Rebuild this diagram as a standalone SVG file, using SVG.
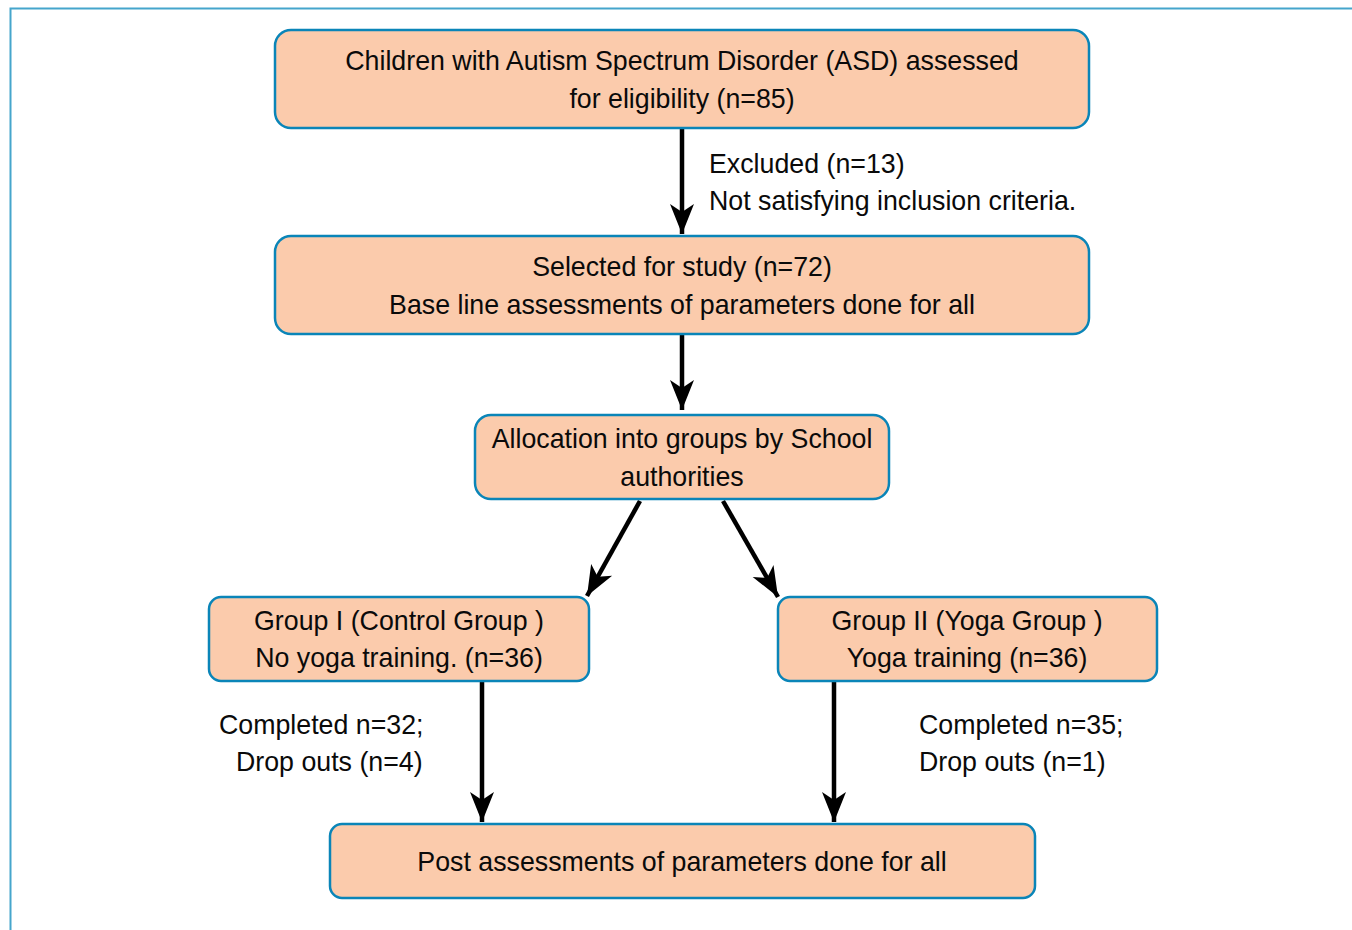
<svg xmlns="http://www.w3.org/2000/svg" width="1352" height="930" viewBox="0 0 1352 930">
<style>
.box{fill:#fbcbac;stroke:#0a85b8;stroke-width:2.5}
.t{font-family:"Liberation Sans",Arial,sans-serif;font-size:26.75px;fill:#0a0a0a}
.c{text-anchor:middle}
.ln{stroke:#000;stroke-width:4.5;fill:none}
</style>
<defs>
<marker id="ah" markerUnits="userSpaceOnUse" markerWidth="32" markerHeight="26" viewBox="0 0 32 26" refX="30" refY="13" orient="auto">
<path d="M0,1 L30,13 L0,25 L8,13 Z" fill="#000"/>
</marker>
</defs>
<rect width="1352" height="930" fill="#fff"/>
<path d="M10.5,930 V8.5 H1352" fill="none" stroke="#45a5cc" stroke-width="2"/>
<g id="connectors">
<line class="ln" x1="682" y1="128" x2="682" y2="234" marker-end="url(#ah)"/>
<line class="ln" x1="682" y1="334" x2="682" y2="410" marker-end="url(#ah)"/>
<line class="ln" x1="640" y1="501" x2="587" y2="596" marker-end="url(#ah)"/>
<line class="ln" x1="723" y1="501" x2="778" y2="597" marker-end="url(#ah)"/>
<line class="ln" x1="482" y1="682" x2="482" y2="822" marker-end="url(#ah)"/>
<line class="ln" x1="834" y1="682" x2="834" y2="822" marker-end="url(#ah)"/>
</g>
<g id="n1"><rect class="box" x="275" y="30" width="814" height="98" rx="16"/>
<text class="t c" x="682" y="70">Children with Autism Spectrum Disorder (ASD) assessed</text>
<text class="t c" x="682" y="108">for eligibility (n=85)</text></g>
<g id="excl"><text class="t" x="709" y="173">Excluded (n=13)</text>
<text class="t" x="709" y="210">Not satisfying inclusion criteria.</text></g>
<g id="n2"><rect class="box" x="275" y="236" width="814" height="98" rx="16"/>
<text class="t c" x="682" y="276">Selected for study (n=72)</text>
<text class="t c" x="682" y="314">Base line assessments of parameters done for all</text></g>
<g id="n3"><rect class="box" x="475" y="415" width="414" height="84" rx="16"/>
<text class="t c" x="682" y="448">Allocation into groups by School</text>
<text class="t c" x="682" y="486">authorities</text></g>
<g id="n4"><rect class="box" x="209" y="597" width="380" height="84" rx="12"/>
<text class="t c" x="399" y="630">Group I (Control Group )</text>
<text class="t c" x="399" y="667">No yoga training. (n=36)</text></g>
<g id="n5"><rect class="box" x="778" y="597" width="379" height="84" rx="12"/>
<text class="t c" x="967" y="630">Group II (Yoga Group )</text>
<text class="t c" x="967" y="667">Yoga training (n=36)</text></g>
<g id="lblL"><text class="t" x="219" y="734">Completed n=32;</text>
<text class="t" x="236" y="771">Drop outs (n=4)</text></g>
<g id="lblR"><text class="t" x="919" y="734">Completed n=35;</text>
<text class="t" x="919" y="771">Drop outs (n=1)</text></g>
<g id="n6"><rect class="box" x="330" y="824" width="705" height="74" rx="12"/>
<text class="t c" x="682" y="871">Post assessments of parameters done for all</text></g>
</svg>
